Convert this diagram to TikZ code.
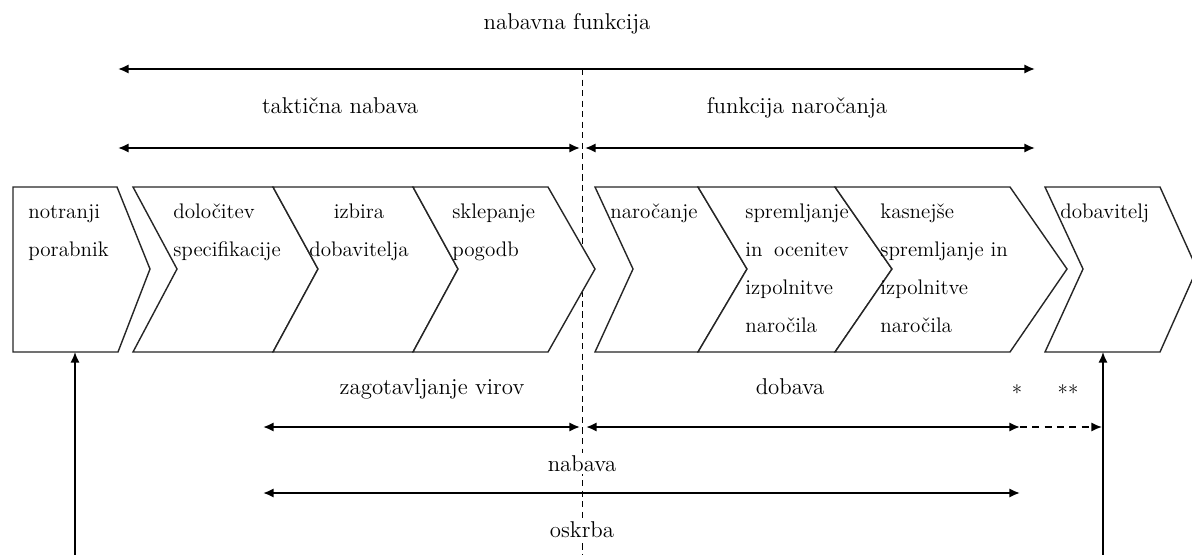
\documentclass[tikz,border=0pt]{standalone}
\usepackage{calc}
\usetikzlibrary{arrows.meta}

\tikzset{
  htip/.tip={Latex[length=6pt,width=5.2pt]},
  chev/.style={draw=black!85, line width=0.8pt, fill=white, line join=miter},
  spanarrow/.style={line width=1.1pt, htip-htip},
  flow/.style={line width=0.9pt, -htip},
  divider/.style={line width=0.5pt, dash pattern=on 3.5pt off 2.5pt},
  boxtext/.style={anchor=base west, inner sep=0pt, align=left,
    font=\fontsize{12}{21.5}\selectfont},
  spanlabel/.style={anchor=base, inner sep=1.5pt, font=\fontsize{13}{15}\selectfont},
  starmark/.style={anchor=base, inner sep=0pt, font=\fontsize{12}{14}\selectfont}
}

% one chevron: left edge x, notch x, right corner x, tip x
\newcommand\chevronbox[4]{%
  \draw[chev] (#1,187) -- (#3,187) -- (#4,269) -- (#3,352) -- (#1,352) -- (#2,269) -- cycle;}

\begin{document}
\begin{tikzpicture}[x=0.02cm, y=-0.02cm]
\useasboundingbox (0,0) rectangle (1192,554);
\clip (0,0) rectangle (1192,554);

% end points of the spans and flows
\coordinate (topL) at (118,69);   \coordinate (topR) at (1035,69);
\coordinate (tacL) at (118,148);  \coordinate (tacR) at (580,148);
\coordinate (ordL) at (585,148);  \coordinate (ordR) at (1035,148);
\coordinate (srcL) at (263,427);  \coordinate (srcR) at (580,427);
\coordinate (supL) at (586,427);  \coordinate (supR) at (1020,427);
\coordinate (extR) at (1102,427);
\coordinate (purL) at (263,493);  \coordinate (purR) at (1020,493);
\coordinate (divT) at (582,69);   \coordinate (divB) at (582,560);
\coordinate (useIn) at (75,560);  \coordinate (useB) at (75,352);
\coordinate (venIn) at (1103,560); \coordinate (venB) at (1103,352);

% central divider, partly hidden by the chevrons
\draw[divider] (divT) -- (divB);

% process chevrons
\draw[chev] (13,187) -- (117,187) -- (150,269) -- (118,352) -- (13,352) -- cycle;
\chevronbox{133}{177}{273}{318}
\chevronbox{273}{318}{413}{458}
\chevronbox{413}{458}{548}{595}
\chevronbox{595}{633}{698}{747}
\chevronbox{698}{747}{835}{892}
\chevronbox{835}{892}{1010}{1067}
\chevronbox{1045}{1083}{1160}{1197}

% chevron texts (anchored at the baseline of their last line)
\node[boxtext] (user) at (28,256) {notranji\\porabnik};
\node[boxtext] (spec) at (173,256) {določitev\\specifikacije};
\node[boxtext, align=center, anchor=base] (choose) at (359,256) {izbira\\dobavitelja};
\node[boxtext] (contract) at (452,256) {sklepanje\\pogodb};
\node[boxtext] (order) at (610,218) {naročanje};
\node[boxtext] (monitor) at (745,332)
  {spremljanje\\\makebox[\widthof{spremljanje}][s]{in ocenitev}\\izpolnitve\\naročila};
\node[boxtext] (later) at (880,332) {kasnejše\\spremljanje in\\izpolnitve\\naročila};
\node[boxtext] (vendor) at (1060,218) {dobavitelj};

% span labels
\node[spanlabel] (lfun) at (567,30) {nabavna funkcija};
\node[spanlabel] (ltac) at (340,113) {taktična nabava};
\node[spanlabel] (lord) at (797,113) {funkcija naročanja};
\node[spanlabel] (lsrc) at (432,394) {zagotavljanje virov};
\node[spanlabel] (lsup) at (790,394) {dobava};
\node[starmark] (m1) at (1017,400) {*};
\node[starmark] (m2) at (1068,400) {**};

% spans
\draw[spanarrow] (topL) -- (topR);
\draw[spanarrow] (tacL) -- (tacR);
\draw[spanarrow] (ordL) -- (ordR);
\draw[spanarrow] (srcL) -- (srcR);
\draw[spanarrow] (supL) -- (supR);
\draw[line width=0.9pt, dash pattern=on 4pt off 3pt, -htip] (supR) -- (extR);
\draw[spanarrow] (purL) -- (purR);

\node[spanlabel, fill=white] (lpur) at (582,471) {nabava};
\node[spanlabel, fill=white] (lsat) at (582,537) {oskrba};

% flows into the end chevrons
\draw[flow] (useIn) -- (useB);
\draw[flow] (venIn) -- (venB);
\end{tikzpicture}
\end{document}
